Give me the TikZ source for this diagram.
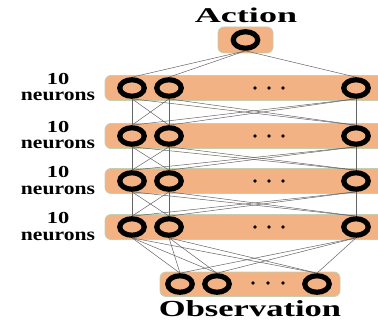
\documentclass[tikz,border=0pt]{standalone}
\usepackage{fontspec}
\setmainfont{Liberation Serif}
\usepackage{graphicx}
\usetikzlibrary{shapes.geometric}
\definecolor{boxfill}{RGB}{243,178,131}
\definecolor{boxedge}{RGB}{196,206,176}
\definecolor{wire}{RGB}{100,100,100}
\begin{document}
\begin{tikzpicture}[x=1pt,y=-1pt,
  neuron/.style={ellipse,draw=black,line width=5.2pt,minimum width=24.5pt,minimum height=16.5pt,inner sep=0pt},
  layerbox/.style={draw=boxedge,line width=0.8pt,fill=boxfill,rounded corners=6pt},
  conn/.style={draw=wire,line width=0.5pt},
  dotn/.style={circle,fill=black,inner sep=0pt,minimum size=3.6pt},
  lbl/.style={font=\bfseries\fontsize{16}{17}\selectfont,inner sep=0pt},
  title/.style={font=\bfseries\fontsize{21}{22}\selectfont}]
\useasboundingbox (0,0) rectangle (378,321);
% boxes
\path[layerbox] (218,27) rectangle (273,53);
\foreach \r/\y in {1/88,2/136,3/181,4/227}{
  \path[layerbox] (105,\y-12.5) rectangle (392,\y+12.5);
}
\path[layerbox] (160,272) rectangle (340,296.5);
% titles
\node[title] (act) at (246,15) {\scalebox{1.72}[1]{Action}};
\node[title,font=\bfseries\fontsize{23}{24}\selectfont] (obs) at (250,308.5) {\scalebox{1.5}[1]{Observation}};
% action neuron
\node[neuron] (a) at (245.5,40) {};
% hidden layers
\foreach \r/\y in {1/88,2/136,3/181,4/227}{
  \node[neuron] (r\r a) at (132,\y) {};
  \node[neuron] (r\r b) at (169,\y) {};
  \node[neuron] (r\r c) at (356,\y) {};
  \node[dotn] (r\r d1) at (255,\y) {};
  \node[dotn] (r\r d2) at (269,\y) {};
  \node[dotn] (r\r d3) at (283,\y) {};
  \node[lbl,anchor=base] (ten\r) at (58,\y-3.5) {\scalebox{1.4}[1.05]{10}};
  \node[lbl,anchor=base] (neu\r) at (58,\y+13) {\scalebox{1.35}[1.12]{neurons}};
}
% observation layer
\node[neuron] (oa) at (180,284) {};
\node[neuron] (ob) at (217,284) {};
\node[neuron] (oc) at (317,284) {};
\node[dotn] (od1) at (253,283) {};
\node[dotn] (od2) at (268,283) {};
\node[dotn] (od3) at (283,283) {};
% connections
\foreach \t in {a,b,c}{ \draw[conn] (a.south) -- (r1\t.north); }
\foreach \u/\l in {1/2,2/3,3/4}{
  \foreach \s in {a,b,c}{
    \foreach \t in {a,b,c}{
      \draw[conn] (r\u\s.south) -- (r\l\t.north);
    }
  }
}
\foreach \s in {a,b,c}{
  \foreach \t in {a,b,c}{
    \draw[conn] (r4\s.south) -- (o\t.north);
  }
}
\end{tikzpicture}
\end{document}
